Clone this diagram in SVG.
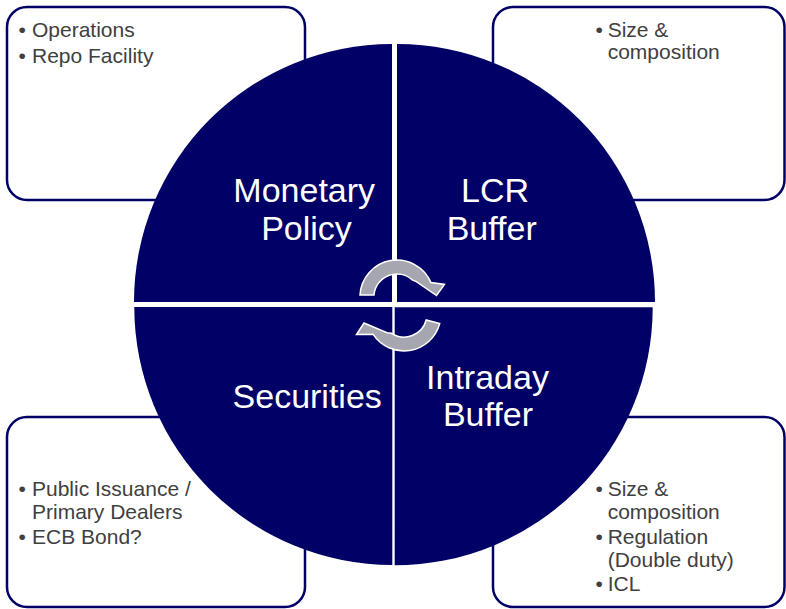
<svg xmlns="http://www.w3.org/2000/svg" width="786" height="609" viewBox="0 0 786 609">
<style>
.box{fill:#fff;stroke:#000066;stroke-width:2.5}
.quad{fill:#000066}
.bt{font-family:"Liberation Sans",Arial,sans-serif;font-size:21px;fill:#404040}
.lbl{font-family:"Liberation Sans",Arial,sans-serif;font-size:34px;fill:#fff;text-anchor:middle}
.arr{fill:#A6A6B0;stroke:#fff;stroke-width:1.5;stroke-linejoin:miter}
</style>
<rect width="786" height="609" fill="#fff"/>
<g id="box-monetary">
<rect class="box" x="7" y="7" width="298" height="193" rx="20"/>
<text class="bt" x="18.5" y="36.7">•</text><text class="bt" x="32" y="36.7">Operations</text>
<text class="bt" x="18.5" y="62.5">•</text><text class="bt" x="32" y="62.5">Repo Facility</text>
</g>
<g id="box-lcr">
<rect class="box" x="493" y="7" width="291.5" height="193" rx="20"/>
<text class="bt" x="595.5" y="36.7">•</text><text class="bt" x="607.7" y="36.7">Size &amp;</text>
<text class="bt" x="607.7" y="59.3">composition</text>
</g>
<g id="box-securities">
<rect class="box" x="7" y="417" width="298" height="190" rx="20"/>
<text class="bt" x="18.5" y="496">•</text><text class="bt" x="32" y="496">Public Issuance /</text>
<text class="bt" x="32" y="518.5">Primary Dealers</text>
<text class="bt" x="18.5" y="544">•</text><text class="bt" x="32" y="544">ECB Bond?</text>
</g>
<g id="box-intraday">
<rect class="box" x="493" y="417" width="291.5" height="190" rx="20"/>
<text class="bt" x="595.5" y="496">•</text><text class="bt" x="607.7" y="496">Size &amp;</text>
<text class="bt" x="607.7" y="518.5">composition</text>
<text class="bt" x="595.5" y="544">•</text><text class="bt" x="607.7" y="544">Regulation</text>
<text class="bt" x="607.7" y="566.5">(Double duty)</text>
<text class="bt" x="595.5" y="591">•</text><text class="bt" x="607.7" y="591">ICL</text>
</g>
<g id="q-monetary">
<path class="quad" d="M392,302 L134,302 A258,258 0 0 1 392,44 Z"/>
<text class="lbl" x="304.2" y="202.3">Monetary</text>
<text class="lbl" x="306.5" y="239.8">Policy</text>
</g>
<g id="q-lcr">
<path class="quad" d="M397,302 L397,44 A258,258 0 0 1 655,302 Z"/>
<text class="lbl" x="495" y="202.3">LCR</text>
<text class="lbl" x="491.7" y="240">Buffer</text>
</g>
<g id="q-intraday">
<path class="quad" d="M394.7,307.3 L652.7,307.3 A258,258 0 0 1 394.7,565.3 Z"/>
<text class="lbl" x="487.5" y="389">Intraday</text>
<text class="lbl" x="488" y="426">Buffer</text>
</g>
<g id="q-securities">
<path class="quad" d="M392.3,307 L392.3,565 A258,258 0 0 1 134.3,307 Z"/>
<text class="lbl" x="307.2" y="407.7">Securities</text>
</g>
<g id="connectors">
<path class="arr" d="M360,295 A37,37 0 0 1 431,282.6 L444.5,284.4 L436.5,295.5 L416,281.5 L412.7,280.2 A23,23 0 0 0 374,295 Z"/>
<path class="arr" d="M439.7,323.6 A37,37 0 0 1 373,334.2 L356.5,334.5 L364,323 L387,332.8 L391.5,333.3 A23,23 0 0 0 426.2,320 Z"/>
</g>
</svg>
